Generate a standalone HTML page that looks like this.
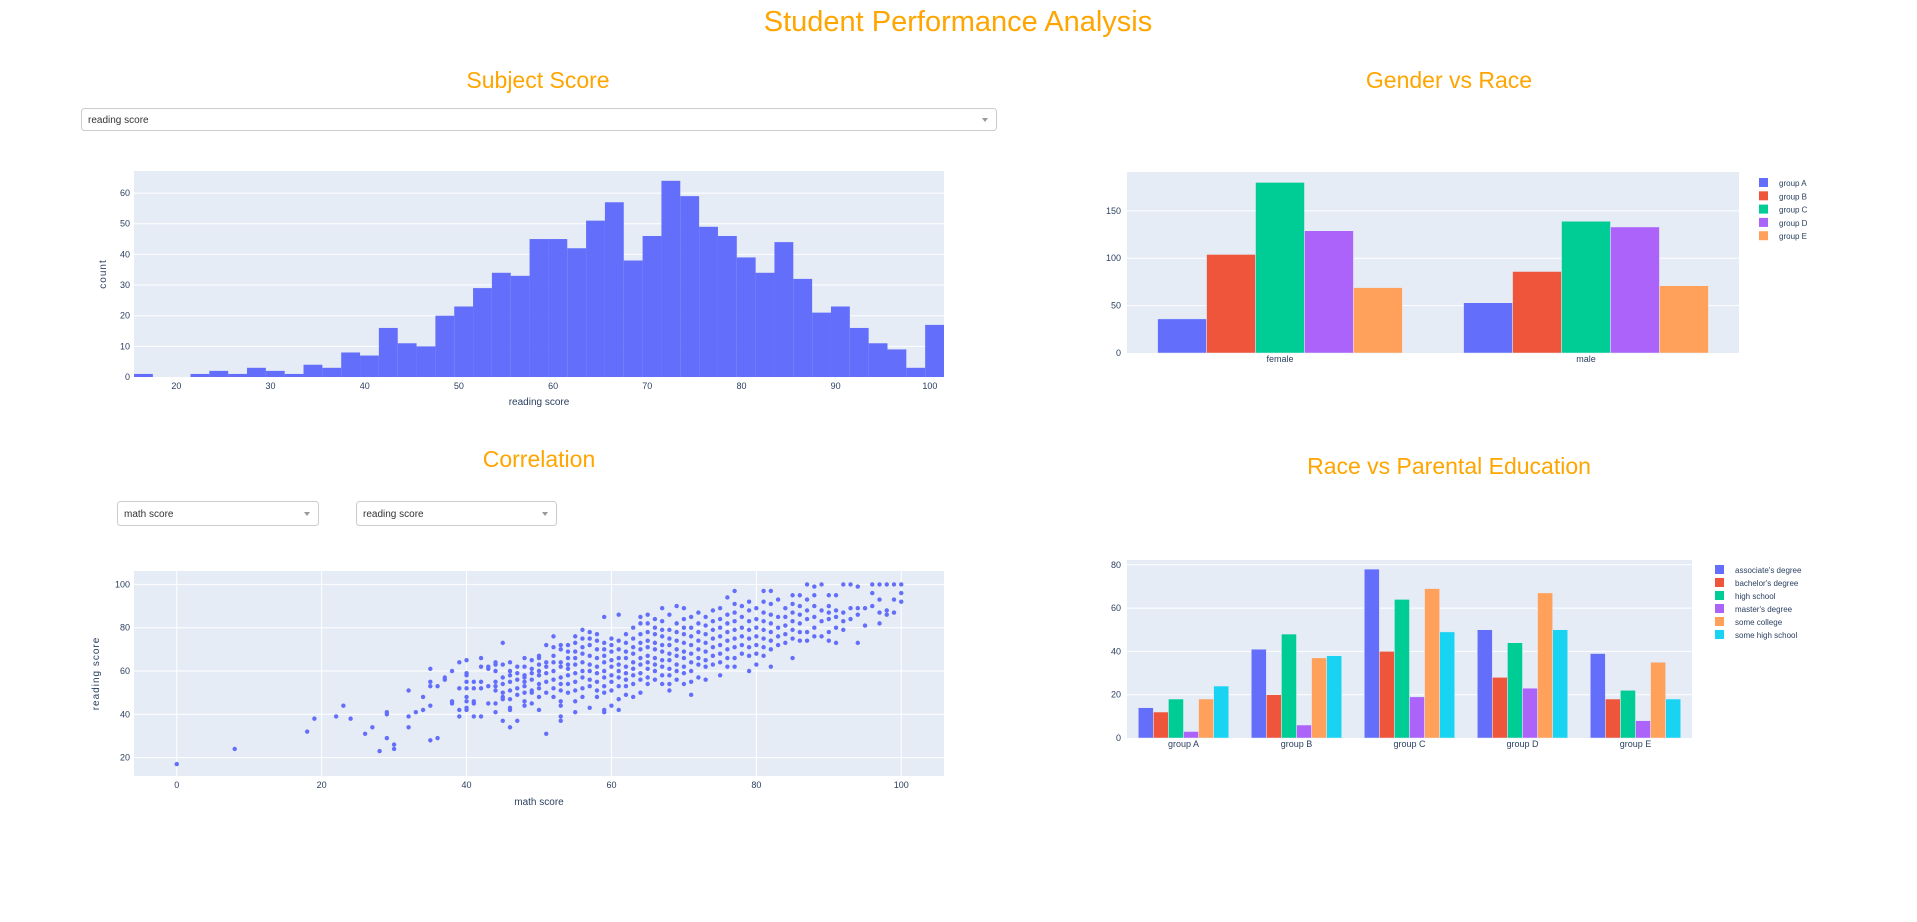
<!DOCTYPE html>
<html><head><meta charset="utf-8">
<style>
body{margin:0;background:#fff;font-family:"Liberation Sans",Arial,sans-serif;}
svg text{font-family:"Liberation Sans",Arial,sans-serif;}
</style></head>
<body>
<svg id="s" width="1917" height="917" xmlns="http://www.w3.org/2000/svg">
<text x="958" y="31" font-size="29" fill="#FFA500" text-anchor="middle">Student Performance Analysis</text>
<text x="538" y="88" font-size="23" fill="#FFA500" text-anchor="middle">Subject Score</text>
<text x="1449" y="88" font-size="23" fill="#FFA500" text-anchor="middle">Gender vs Race</text>
<text x="539" y="467" font-size="23" fill="#FFA500" text-anchor="middle">Correlation</text>
<text x="1449" y="474" font-size="23" fill="#FFA500" text-anchor="middle">Race vs Parental Education</text>
<g><rect x="81.5" y="108.5" width="915" height="22" rx="3" fill="#fff" stroke="#ccc"/><text x="88" y="123" font-size="10" fill="#333">reading score</text><path d="M982 118 l6 0 l-3 4z" fill="#999"/></g>
<g><rect x="117.5" y="501.5" width="201" height="24" rx="3" fill="#fff" stroke="#ccc"/><text x="124" y="517" font-size="10" fill="#333">math score</text><path d="M304 512 l6 0 l-3 4z" fill="#999"/></g>
<g><rect x="356.5" y="501.5" width="200" height="24" rx="3" fill="#fff" stroke="#ccc"/><text x="363" y="517" font-size="10" fill="#333">reading score</text><path d="M542 512 l6 0 l-3 4z" fill="#999"/></g>
<g id="hist"></g><g id="scat"></g><g id="bar1"></g><g id="bar2"></g>
</svg>
<script>
const histBinStarts=[15.5,17.5,19.5,21.5,23.5,25.5,27.5,29.5,31.5,33.5,35.5,37.5,39.5,41.5,43.5,45.5,47.5,49.5,51.5,53.5,55.5,57.5,59.5,61.5,63.5,65.5,67.5,69.5,71.5,73.5,75.5,77.5,79.5,81.5,83.5,85.5,87.5,89.5,91.5,93.5,95.5,97.5,99.5];
const histCounts=[1,0,0,1,2,1,3,2,1,4,3,8,7,16,11,10,20,23,29,34,33,45,45,42,51,57,38,46,64,59,49,46,39,34,44,32,21,23,16,11,9,3,17];
const histXTicks=[20,30,40,50,60,70,80,90,100];
const histYTicks=[0,10,20,30,40,50,60];
const scatterGroups=[[0,[17]],[8,[24]],[18,[32]],[19,[38]],[22,[39]],[23,[44]],[24,[38]],[26,[31]],[27,[34]],[28,[23]],[29,[29,40,41]],[30,[24,26]],[32,[34,39,51]],[33,[41]],[34,[42,48]],[35,[28,44,53,55,61]],[36,[29,53]],[37,[56,57]],[38,[45,46,60]],[39,[39,42,52,64]],[40,[42,43,46,48,52,55,58,59,65]],[41,[39,45,46,52,55]],[42,[39,52,55,62,66]],[43,[45,53,61,62]],[44,[41,45,51,53,55,60,63,64]],[45,[37,47,48,50,54,57,63,73]],[46,[34,42,43,47,51,55,58,60,64]],[47,[37,49,52,56,59,62]],[48,[44,46,50,53,55,57,58,62,66]],[49,[45,50,51,56,59,61,65]],[50,[42,48,52,54,58,60,63,66,67]],[51,[31,50,55,59,62,64,72]],[52,[48,52,56,60,64,67,71,76]],[53,[37,39,44,46,51,54,57,62,64,70,72]],[54,[50,54,58,61,63,66,69,72]],[55,[41,46,51,55,59,63,66,69,73,76]],[56,[48,52,57,60,64,68,71,75,79]],[57,[43,53,56,60,63,67,72,75,78]],[58,[48,51,55,59,62,66,70,74,77]],[59,[41,42,50,53,57,60,64,67,70,73,85]],[60,[44,51,55,58,62,65,69,72,75]],[61,[42,47,53,57,60,63,66,70,74,86]],[62,[49,53,56,59,62,66,69,73,77]],[63,[48,54,58,61,64,68,71,75,80]],[64,[50,56,59,63,66,70,73,77,82,85]],[65,[54,57,61,64,67,71,74,78,82,86]],[66,[56,60,63,66,70,73,77,80,84]],[67,[54,58,62,65,69,72,76,79,83,89]],[68,[51,54,58,61,65,68,72,75,79,86]],[69,[56,60,63,67,70,74,78,82,90]],[70,[54,59,62,66,69,73,77,80,84,89]],[71,[49,55,60,64,68,72,76,80,85]],[72,[57,63,66,70,74,78,82,87]],[73,[56,62,65,69,73,77,81,85]],[74,[63,67,71,75,79,83,88]],[75,[58,64,68,72,76,80,84,89]],[76,[62,66,70,74,78,82,86,94]],[77,[62,66,71,75,79,83,87,91,97]],[78,[68,72,76,80,85,90]],[79,[60,67,71,75,79,83,88,92]],[80,[63,68,72,76,80,84,89]],[81,[67,71,75,79,83,87,92,97]],[82,[62,70,74,78,82,86,91,97]],[83,[72,76,80,85,93]],[84,[73,77,81,85,89]],[85,[66,75,79,83,87,91,95]],[86,[74,78,82,86,90,95]],[87,[74,78,84,88,93,100]],[88,[76,80,85,90,95,99]],[89,[76,83,88,100]],[90,[74,78,84,87,90,95]],[91,[73,80,85,88,95]],[92,[79,83,87,100]],[93,[84,89,100]],[94,[73,86,89,99]],[95,[81,89]],[96,[90,96,100]],[97,[82,87,93,100]],[98,[86,88,100]],[99,[87,93,100]],[100,[92,96,100]]];
const scatXTicks=[0,20,40,60,80,100];
const scatYTicks=[20,40,60,80,100];
const genders=["female","male"];
const raceGroups=["group A","group B","group C","group D","group E"];
const genderRaceValues=[[36,53],[104,86],[180,139],[129,133],[69,71]];
const genderYTicks=[0,50,100,150];
const eduLevels=["associate's degree","bachelor's degree","high school","master's degree","some college","some high school"];
const eduValues=[[14,41,78,50,39],[12,20,40,28,18],[18,48,64,44,22],[3,6,19,23,8],[18,37,69,67,35],[24,38,49,50,18]];
const eduYTicks=[0,20,40,60,80];
const colors=["#636efa","#EF553B","#00cc96","#ab63fa","#FFA15A","#19d3f3"];
const NS="http://www.w3.org/2000/svg";
function mk(parent,tag,attrs,txt){const e=document.createElementNS(NS,tag);for(const k in attrs)e.setAttribute(k,attrs[k]);if(txt!==undefined)e.textContent=txt;parent.appendChild(e);return e;}
function lin(d0,d1,r0,r1){return v=>r0+(v-d0)/(d1-d0)*(r1-r0);}
function frame(g,x,y,w,h){const r=mk(g,'rect',{x:x,y:y,width:w,height:h,fill:'#E5ECF6'});}
function hline(g,x0,x1,y){mk(g,'line',{x1:x0,x2:x1,y1:y,y2:y,stroke:'#fff','stroke-width':1});}
function tickText(g,x,y,t,anchor,name){const e=mk(g,'text',{x:x,y:y,'font-size':9,fill:'#2a3f5f','text-anchor':anchor},t);}
// Histogram
(function(){const g=document.getElementById('hist');const L=134,R=944,T=171,B=377;frame(g,L,T,R-L,B-T);
const X=lin(15.5,101.5,L,R),Y=lin(0,67.2,B,T);
histYTicks.forEach(t=>{if(t>0)hline(g,L,R,Y(t));tickText(g,L-4,Y(t)+3,t,'end','y-tick');});
histBinStarts.forEach((b,i)=>{const c=histCounts[i];if(!c)return;const r=mk(g,'rect',{x:X(b),y:Y(c),width:X(b+2)-X(b),height:B-Y(c),fill:'#636efa'});});
histXTicks.forEach(t=>tickText(g,X(t),B+12,t,'middle','x-tick'));
const xt=mk(g,'text',{x:(L+R)/2,y:405,'font-size':10,fill:'#2a3f5f','text-anchor':'middle'},'reading score');
const yt=mk(g,'text',{x:0,y:0,'font-size':10,fill:'#2a3f5f','text-anchor':'middle','letter-spacing':1,transform:`translate(106,${(T+B)/2}) rotate(-90)`},'count');})();
// Scatter
(function(){const g=document.getElementById('scat');const L=134,R=944,T=571,B=776;frame(g,L,T,R-L,B-T);
const X=lin(-5.9,105.9,L,R),Y=lin(11.5,106.2,B,T);
scatYTicks.forEach(t=>{hline(g,L,R,Y(t));tickText(g,L-4,Y(t)+3,t,'end','y-tick');});
scatXTicks.forEach(t=>{mk(g,'line',{x1:X(t),x2:X(t),y1:T,y2:B,stroke:'#fff'});tickText(g,X(t),B+12,t,'middle','x-tick');});
scatterGroups.forEach(([mx,ys])=>ys.forEach(ry=>{const c=mk(g,'circle',{cx:X(mx),cy:Y(ry),r:2.2,fill:'#636efa'});}));
const xt=mk(g,'text',{x:(L+R)/2,y:805,'font-size':10,fill:'#2a3f5f','text-anchor':'middle'},'math score');
const yt=mk(g,'text',{x:0,y:0,'font-size':10,fill:'#2a3f5f','text-anchor':'middle','letter-spacing':1,transform:`translate(99,${(T+B)/2}) rotate(-90)`},'reading score');})();
function grouped(g,L,R,T,B,ymax,cats,series,names,yticks,legX,legY,legStep){frame(g,L,T,R-L,B-T);const Y=lin(0,ymax,B,T);
yticks.forEach(t=>{if(t>0)hline(g,L,R,Y(t));tickText(g,L-6,Y(t)+3,t,'end','y-tick');});
const cw=(R-L)/cats.length,gw=cw*0.8,bw=gw/series.length;
cats.forEach((c,ci)=>{const x0=L+ci*cw+cw*0.1;series.forEach((s,si)=>{const v=s[ci];const r=mk(g,'rect',{x:x0+si*bw,y:Y(v),width:bw,height:B-Y(v),fill:colors[si],stroke:'#E5ECF6','stroke-width':0.5});});tickText(g,L+ci*cw+cw/2,B+9,c,'middle','x-tick');});
names.forEach((n,i)=>{const lg=mk(g,'g',{});mk(lg,'rect',{x:legX,y:legY+i*legStep-4,width:9,height:9,fill:colors[i]});mk(lg,'text',{x:legX+20,y:legY+i*legStep+4,'font-size':8,fill:'#2a3f5f'},n);});}
grouped(document.getElementById('bar1'),1127,1739,172,353,191,genders,genderRaceValues,raceGroups,genderYTicks,1759,182,13.3);
grouped(document.getElementById('bar2'),1127,1692,560,738,82.2,raceGroups,eduValues,eduLevels,eduYTicks,1715,569,13);
</script>
</body></html>
